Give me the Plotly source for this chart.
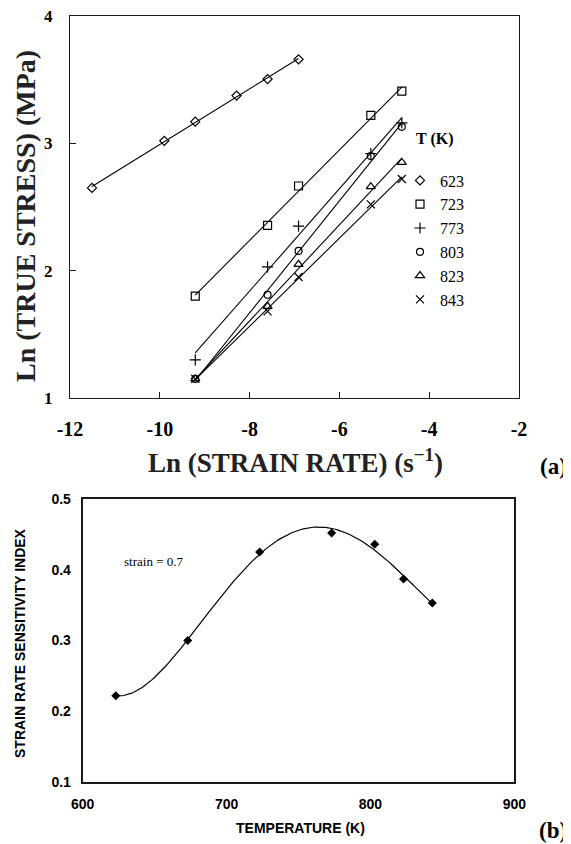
import numpy as np
import plotly.graph_objects as go

# ---------------- (a) Ln(true stress) vs Ln(strain rate) ----------------
series_names = ["623", "723", "773", "803", "823", "843"]
ln_rate_623 = [-11.51, -9.90, -9.21, -8.29, -7.60, -6.91]
ln_stress_623 = [2.65, 3.02, 3.17, 3.375, 3.505, 3.66]
ln_rate = [-9.21, -7.60, -6.91, -5.30, -4.61]
ln_stress_723 = [1.80, 2.355, 2.665, 3.22, 3.41]
ln_stress_773 = [1.30, 2.03, 2.35, 2.92, 3.16]
ln_stress_803 = [1.15, 1.81, 2.155, 2.90, 3.13]
ln_stress_823 = [1.15, 1.72, 2.05, 2.66, 2.85]
ln_stress_843 = [1.15, 1.68, 1.95, 2.52, 2.72]
x_tick_vals = [-12, -10, -8, -6, -4, -2]
x_tick_text = ["-12", "-10", "-8", "-6", "-4", "-2"]
y_tick_vals = [1, 2, 3, 4]
y_tick_text = ["1", "2", "3", "4"]

# ---------------- (b) strain rate sensitivity vs temperature ----------------
temperature_K = [623, 673, 723, 773, 803, 823, 843]
m_index = [0.222, 0.300, 0.425, 0.452, 0.436, 0.387, 0.353]
x2_tick_vals = [600, 700, 800, 900]
y2_tick_vals = [0.1, 0.2, 0.3, 0.4, 0.5]
y2_tick_text = ["0.1", "0.2", "0.3", "0.4", "0.5"]

SERIF = "Liberation Serif, Times New Roman, serif"
SANS = "Liberation Sans, Arial, sans-serif"
OFF = 8                      # default page (body) margin
W, H = 571 - OFF, 844 - OFF  # figure size so the page fits the window

xs = [ln_rate_623, ln_rate, ln_rate, ln_rate, ln_rate, ln_rate]
ys = [ln_stress_623, ln_stress_723, ln_stress_773, ln_stress_803, ln_stress_823, ln_stress_843]
symbols = ["diamond-open", "square-open", "cross-thin-open", "circle-open", "triangle-up-open", "x-thin-open"]
sizes = [7, 8, 8, 7, 8, 8]

fig = go.Figure()

# fitted lines (least squares) for each temperature
for name, x, y in zip(series_names, xs, ys):
    k, b = np.polyfit(x, y, 1)
    xe = np.array([min(x), max(x)])
    fig.add_trace(go.Scatter(x=xe, y=k * xe + b, mode="lines",
                             line=dict(color="black", width=1.1),
                             showlegend=False, hoverinfo="skip",
                             xaxis="x", yaxis="y"))

for name, x, y, s, sz in zip(series_names, xs, ys, symbols, sizes):
    fig.add_trace(go.Scatter(x=x, y=y, mode="markers", name=name,
                             marker=dict(symbol=s, size=sz, color="black",
                                         line=dict(color="black", width=1.2)),
                             xaxis="x", yaxis="y"))

# (b) polynomial fit curve + points
tc = np.array(temperature_K, dtype=float)
coef = np.polyfit(tc - 733.0, m_index, 4)
tt = np.linspace(min(temperature_K), max(temperature_K), 200)
fig.add_trace(go.Scatter(x=tt, y=np.polyval(coef, tt - 733.0), mode="lines",
                         line=dict(color="black", width=1.2),
                         showlegend=False, hoverinfo="skip",
                         xaxis="x2", yaxis="y2"))
fig.add_trace(go.Scatter(x=temperature_K, y=m_index, mode="markers",
                         marker=dict(symbol="diamond", size=7, color="black"),
                         showlegend=False, xaxis="x2", yaxis="y2"))


def px(x):
    return (x - OFF) / W


def py(y):
    return 1 - (y - OFF) / H


axis_common = dict(showgrid=False, zeroline=False, mirror=True, automargin=False,
                   ticklabeloverflow="allow", linecolor="#1a1a1a", color="black")

fig.update_layout(
    width=W, height=H,
    margin=dict(l=0, r=0, t=0, b=0, autoexpand=False),
    paper_bgcolor="white", plot_bgcolor="white",
    xaxis=dict(domain=[px(70), px(519)], range=[-12, -2],
               tickvals=x_tick_vals, ticktext=x_tick_text,
               ticks="inside", ticklen=6, tickwidth=1.3, tickcolor="#1a1a1a",
               linewidth=1.4, ticklabelstandoff=13,
               tickfont=dict(family=SERIF, size=20, color="black", weight="bold"),
               anchor="y", **axis_common),
    yaxis=dict(domain=[py(398), py(16)], range=[1, 4],
               tickvals=y_tick_vals, ticktext=y_tick_text,
               ticks="inside", ticklen=6, tickwidth=1.3, tickcolor="#1a1a1a",
               linewidth=1.4, ticklabelstandoff=13,
               tickfont=dict(family=SERIF, size=17, color="black", weight="bold"),
               anchor="x", **axis_common),
    xaxis2=dict(domain=[px(82.7), px(514.3)], range=[600, 900],
                tickvals=x2_tick_vals, ticks="", linewidth=2,
                ticklabelstandoff=8,
                tickfont=dict(family=SANS, size=14, color="black", weight="bold"),
                anchor="y2", **axis_common),
    yaxis2=dict(domain=[py(782), py(499)], range=[0.1, 0.5],
                tickvals=y2_tick_vals, ticktext=y2_tick_text, ticks="", linewidth=2,
                ticklabelstandoff=7,
                tickfont=dict(family=SANS, size=14, color="black", weight="bold"),
                anchor="x2", **axis_common),
    legend=dict(x=px(400), y=py(163.5), xanchor="left", yanchor="top",
                bgcolor="rgba(0,0,0,0)", borderwidth=0, itemwidth=30,
                font=dict(family=SERIF, size=16, color="black")),
    showlegend=True,
)

annotations = [
    dict(text="T (K)", x=px(434), y=py(139),
         font=dict(family=SERIF, size=16, color="black", weight="bold")),
    dict(text="Ln (STRAIN RATE) (s<sup>\u22121</sup>)", x=px(295.5), y=py(461),
         font=dict(family=SERIF, size=27, color="#222", weight="bold")),
    dict(text="Ln (TRUE STRESS) (MPa)", x=px(26), y=py(216), textangle=-90,
         font=dict(family=SERIF, size=28, color="#222", weight="bold")),
    dict(text="(a)", x=px(553), y=py(467),
         font=dict(family=SERIF, size=23, color="black", weight="bold")),
    dict(text="(b)", x=px(553), y=py(830),
         font=dict(family=SERIF, size=23, color="black", weight="bold")),
    dict(text="STRAIN RATE SENSITIVITY INDEX", x=px(20), y=py(643), textangle=-90,
         font=dict(family=SANS, size=14, color="black", weight="bold")),
    dict(text="TEMPERATURE (K)", x=px(300), y=py(828),
         font=dict(family=SANS, size=14, color="black", weight="bold")),
]
for a in annotations:
    a.update(xref="paper", yref="paper", showarrow=False, xanchor="center", yanchor="middle")
    fig.add_annotation(**a)

fig.add_annotation(text="strain = 0.7", x=649, y=0.411, xref="x2", yref="y2",
                   showarrow=False, xanchor="center", yanchor="middle",
                   font=dict(family=SERIF, size=13, color="black"))

fig.write_html("out.html")
